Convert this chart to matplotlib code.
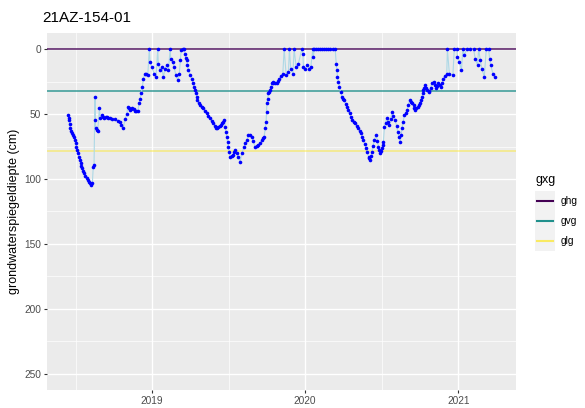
import matplotlib
matplotlib.use('Agg')
import matplotlib.pyplot as plt
from matplotlib.lines import Line2D
from matplotlib.patches import Rectangle

plt.rcParams['font.family'] = ['Liberation Sans', 'DejaVu Sans']

title = "21AZ-154-01"
ylabel = "grondwaterspiegeldiepte (cm)"

# time in decimal years, groundwater depth in cm below surface
time_dec = [
    2018.453, 2018.456, 2018.458, 2018.461, 2018.464, 2018.469, 2018.475, 2018.482,
    2018.490, 2018.496, 2018.501, 2018.506, 2018.512, 2018.517, 2018.523, 2018.528,
    2018.534, 2018.539, 2018.544, 2018.551, 2018.558, 2018.565, 2018.573, 2018.580,
    2018.588, 2018.594, 2018.601, 2018.610, 2018.616, 2018.621, 2018.627, 2018.629,
    2018.632, 2018.639, 2018.645, 2018.656, 2018.662, 2018.671, 2018.680, 2018.688,
    2018.696, 2018.704, 2018.714, 2018.725, 2018.741, 2018.758, 2018.775, 2018.791,
    2018.800, 2018.812, 2018.824, 2018.835, 2018.841, 2018.848, 2018.856, 2018.863,
    2018.871, 2018.880, 2018.889, 2018.898, 2018.907, 2018.915, 2018.922, 2018.928,
    2018.937, 2018.943, 2018.954, 2018.963, 2018.972, 2018.982, 2018.987, 2018.998,
    2019.013, 2019.026, 2019.037, 2019.041, 2019.052, 2019.063, 2019.074, 2019.085,
    2019.096, 2019.107, 2019.118, 2019.122, 2019.135, 2019.144, 2019.155, 2019.168,
    2019.178, 2019.185, 2019.190, 2019.201, 2019.209, 2019.216, 2019.221, 2019.225,
    2019.231, 2019.237, 2019.248, 2019.259, 2019.267, 2019.275, 2019.281, 2019.288,
    2019.292, 2019.296, 2019.305, 2019.314, 2019.324, 2019.335, 2019.346, 2019.358,
    2019.368, 2019.379, 2019.390, 2019.401, 2019.410, 2019.418, 2019.425, 2019.433,
    2019.441, 2019.449, 2019.456, 2019.462, 2019.473, 2019.477, 2019.482, 2019.488,
    2019.493, 2019.499, 2019.505, 2019.510, 2019.519, 2019.527, 2019.535, 2019.542,
    2019.553, 2019.564, 2019.575, 2019.586, 2019.601, 2019.610, 2019.619, 2019.629,
    2019.640, 2019.651, 2019.662, 2019.673, 2019.684, 2019.695, 2019.706, 2019.717,
    2019.725, 2019.732, 2019.739, 2019.745, 2019.748, 2019.750, 2019.755, 2019.760,
    2019.765, 2019.771, 2019.777, 2019.782, 2019.788, 2019.793, 2019.804, 2019.815,
    2019.824, 2019.832, 2019.843, 2019.854, 2019.863, 2019.876,
    2019.891, 2019.897, 2019.906, 2019.920, 2019.928, 2019.941, 2019.956, 2019.978,
    2019.985, 2019.989, 2020.000, 2020.015, 2020.028, 2020.037, 2020.050, 2020.054,
    2020.059, 2020.072, 2020.085, 2020.098, 2020.111, 2020.124, 2020.137, 2020.150,
    2020.163, 2020.180, 2020.196, 2020.203, 2020.207, 2020.211, 2020.217, 2020.224,
    2020.232, 2020.240, 2020.247, 2020.255, 2020.264, 2020.273, 2020.281, 2020.290,
    2020.297, 2020.305, 2020.316, 2020.327, 2020.338, 2020.348, 2020.356, 2020.364,
    2020.373, 2020.381, 2020.390, 2020.399, 2020.407, 2020.414, 2020.420, 2020.425,
    2020.430, 2020.436, 2020.443, 2020.451, 2020.464, 2020.471, 2020.479, 2020.485,
    2020.490, 2020.496, 2020.501, 2020.506, 2020.511, 2020.518, 2020.525, 2020.533,
    2020.542, 2020.550, 2020.558, 2020.567, 2020.577, 2020.588, 2020.597, 2020.605,
    2020.613, 2020.621, 2020.627, 2020.632, 2020.640, 2020.648, 2020.657, 2020.665,
    2020.674, 2020.682, 2020.690, 2020.699, 2020.708, 2020.714, 2020.719, 2020.727,
    2020.734, 2020.741, 2020.747, 2020.755, 2020.763, 2020.768, 2020.773, 2020.779,
    2020.784, 2020.792, 2020.799, 2020.806, 2020.812, 2020.820, 2020.828, 2020.839,
    2020.847, 2020.856, 2020.863, 2020.871, 2020.879, 2020.887, 2020.895, 2020.903,
    2020.914, 2020.925, 2020.929, 2020.942, 2020.965, 2020.974, 2020.991,
    2020.995, 2021.008, 2021.021, 2021.030, 2021.039, 2021.056, 2021.078, 2021.100,
    2021.111, 2021.126, 2021.133, 2021.144, 2021.154, 2021.170, 2021.183, 2021.198,
    2021.205, 2021.212, 2021.226, 2021.238,
]
depth_cm = [
    50.8, 52.7, 54.6, 57.8, 61.0, 63.0, 64.9, 66.0,
    67.4, 70.0, 72.6, 75.0, 77.7, 80.3, 82.8, 85.3,
    87.9, 90.0, 91.8, 93.7, 95.6, 97.5, 99.5, 101.0,
    102.0, 103.3, 104.6, 103.3, 90.5, 89.0, 36.7, 54.6,
    61.0, 62.0, 62.8, 45.6, 53.3, 50.8, 52.0, 53.3,
    52.5, 52.0, 52.8, 53.3, 53.8, 54.1, 55.0, 55.9,
    58.0, 60.3, 54.1, 50.0, 44.4, 45.5, 46.9, 46.0,
    44.9, 46.0, 47.4, 47.4, 47.4, 41.8, 38.0, 34.1,
    29.0, 22.6, 18.7, 19.3, 20.0, 0.0, 9.7, 13.6,
    18.7, 21.3, 0.0, 11.0, 16.2, 13.6, 21.3, 14.9,
    12.3, 16.2, 0.0, 7.2, 9.7, 13.6, 20.0, 23.8,
    18.7, 8.5, 0.8, 0.0, 0.0, 4.0, 6.5, 8.5,
    12.5, 16.2, 19.5, 22.6, 26.0, 29.0, 31.5, 34.1,
    36.8, 39.2, 41.5, 43.0, 44.3, 45.6, 47.5, 49.5,
    51.5, 53.3, 55.3, 57.2, 59.0, 61.0, 60.3, 59.7,
    59.0, 58.5, 57.0, 55.9, 54.6, 59.7, 63.5, 67.4,
    71.3, 75.2, 79.0, 82.8, 82.0, 81.5, 79.5, 77.7,
    80.3, 82.8, 86.7, 80.3, 75.2, 72.5, 70.0, 66.2,
    66.0, 67.4, 71.0, 75.2, 74.5, 73.8, 72.0, 70.0,
    68.5, 67.4, 61.0, 55.9, 48.0, 41.8, 38.0, 34.1,
    32.8, 31.5, 29.0, 26.4, 25.8, 25.2, 25.8, 26.4,
    24.5, 22.6, 20.6, 18.7, 0.0, 20.0,
    17.4, 0.0, 14.9, 18.7, 0.0, 13.6, 11.0, 0.0,
    3.3, 13.6, 14.9, 12.3, 14.9, 13.6, 0.0, 5.9,
    0.0, 0.0, 0.0, 0.0, 0.0, 0.0, 0.0, 0.0,
    0.0, 0.0, 0.0, 11.0, 16.0, 21.3, 25.0, 29.0,
    33.0, 36.7, 38.0, 39.2, 42.0, 44.4, 47.0, 49.5,
    52.0, 54.6, 56.0, 57.2, 59.0, 61.0, 63.0, 64.9,
    67.5, 70.0, 73.0, 76.4, 79.5, 82.8, 84.0, 85.4,
    82.0, 79.0, 74.5, 70.0, 66.2, 70.5, 75.2, 78.0,
    80.3, 78.5, 76.4, 74.0, 71.3, 59.7, 56.5, 53.3,
    56.0, 58.5, 53.5, 48.2, 51.5, 54.6, 59.0, 63.6,
    67.5, 71.3, 66.0, 61.0, 56.0, 50.8, 49.0, 46.9,
    43.0, 39.2, 40.5, 41.8, 43.0, 45.0, 46.9, 45.5,
    44.4, 43.0, 41.8, 39.0, 36.7, 34.0, 31.5, 29.5,
    27.7, 29.5, 31.5, 32.0, 32.8, 29.5, 26.4, 25.2,
    27.5, 30.2, 28.3, 26.4, 27.7, 29.0, 25.8, 22.6,
    20.6, 18.7, 0.0, 18.7, 20.0, 0.0, 0.0,
    5.9, 9.7, 16.2, 0.0, 4.6, 0.0, 0.0, 0.0,
    7.2, 12.3, 0.0, 8.5, 14.9, 21.3, 0.0, 0.0,
    7.2, 12.3, 18.7, 21.3,
]

gxg_names = ["ghg", "gvg", "glg"]
gxg_values = [0.0, 32.3, 78.5]
gxg_colors = ["#440154", "#21908C", "#FDE725"]

x_ticks = [2019, 2020, 2021]
x_tick_labels = ["2019", "2020", "2021"]
x_minor = [2018.5, 2019.5, 2020.5]
y_ticks = [0, 50, 100, 150, 200, 250]
y_minor = [25, 75, 125, 175, 225]

W, H = 585, 408
fig = plt.figure(figsize=(W / 100, H / 100), dpi=100)
ax = fig.add_axes([47 / W, 1 - 390 / H, (516 - 47) / W, (390 - 33) / H])
ax.set_facecolor('#EBEBEB')
for s in ax.spines.values():
    s.set_visible(False)

ax.set_xticks(x_ticks)
ax.set_xticklabels(x_tick_labels)
ax.set_xticks(x_minor, minor=True)
ax.set_yticks(y_ticks)
ax.set_yticks(y_minor, minor=True)
ax.grid(which='major', color='white', linewidth=1.0)
ax.grid(which='minor', color='white', linewidth=0.5)
ax.set_axisbelow(True)
ax.tick_params(which='major', length=2.2, width=0.8, color='#333333',
               labelsize=7.3, labelcolor='#4D4D4D', pad=2)
ax.tick_params(which='minor', length=0)

# gxg reference lines
for v, c in zip(gxg_values, gxg_colors):
    ax.axhline(v, color=c, linewidth=1.1, alpha=0.9 if c != "#FDE725" else 0.55, zorder=2)

ax.plot(time_dec, depth_cm, color='#ADD8E6', linewidth=0.8, zorder=3)
ax.plot(time_dec, depth_cm, linestyle='none', marker='o', markersize=2.6,
        markerfacecolor='#0000FF', markeredgewidth=0, zorder=4)

tmin, tmax = min(time_dec), max(time_dec)
pad = 0.05 * (tmax - tmin)
ax.set_xlim(tmin - pad, tmax + pad)
ax.set_ylim(262.5, -12.5)

fig.text(42 / W, 1 - 18 / H, title, fontsize=11, ha='left', va='center')
fig.text(14 / W, 1 - 211 / H, ylabel, fontsize=9, rotation=90, ha='center', va='center')

# legend
fig.text(535 / W, 1 - 180 / H, "gxg", fontsize=9, ha='left', va='center')
for i, (name, c) in enumerate(zip(gxg_names, gxg_colors)):
    yc = 201 + 20 * i
    fig.add_artist(Rectangle((535 / W, 1 - (yc + 10) / H), 20 / W, 20 / H,
                             transform=fig.transFigure, facecolor='#F2F2F2',
                             edgecolor='none'))
    fig.add_artist(Line2D([537 / W, 553 / W], [1 - yc / H, 1 - yc / H],
                          transform=fig.transFigure, color=c, linewidth=1.5,
                          alpha=1.0 if c != "#FDE725" else 0.7))
    fig.text(561 / W, 1 - yc / H, name, fontsize=7.3, ha='left', va='center')

fig.savefig('out.png', dpi=100)
